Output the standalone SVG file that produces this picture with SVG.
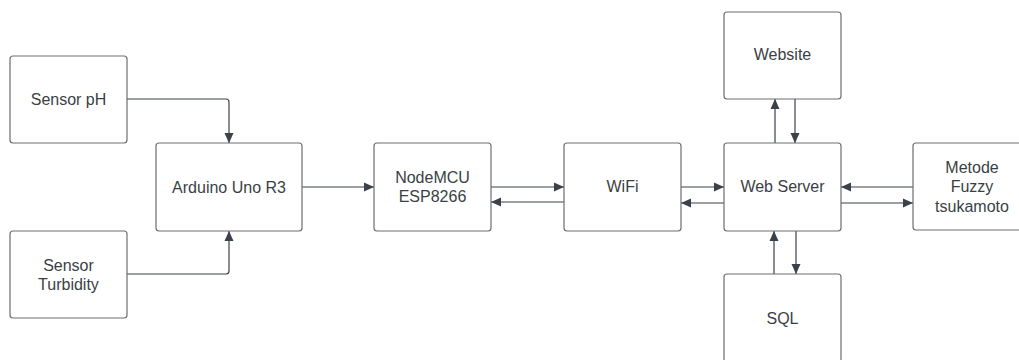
<svg xmlns="http://www.w3.org/2000/svg" width="1019" height="360" viewBox="0 0 1019 360">
<style>
.box{fill:#ffffff;stroke:#6b6e73;stroke-width:1.2}
.t{font-family:"Liberation Sans",Arial,sans-serif;font-size:16px;fill:#3a3f45;text-anchor:middle;dominant-baseline:central}
.c{fill:none;stroke:#3a414a;stroke-width:1.2;marker-end:url(#ah)}
</style>
<defs>
<marker id="ah" markerUnits="userSpaceOnUse" markerWidth="12" markerHeight="12" viewBox="0 0 12 12" refX="11" refY="6" orient="auto">
<path d="M1,1.5 L11,6 L1,10.5 Z" fill="#3a414a"/>
</marker>
</defs>
<rect width="1019" height="360" fill="#ffffff"/>
<g id="connectors">
<path class="c" d="M127,99 H226 Q229,99 229,102 V143"/>
<path class="c" d="M127,274 H226 Q229,274 229,271 V231"/>
<path class="c" d="M302,187 H374"/>
<path class="c" d="M491,187 H564"/>
<path class="c" d="M564,202 H491"/>
<path class="c" d="M681,187 H724"/>
<path class="c" d="M724,203 H681"/>
<path class="c" d="M775,143 V99"/>
<path class="c" d="M795,99 V143"/>
<path class="c" d="M913,187 H841"/>
<path class="c" d="M841,203 H913"/>
<path class="c" d="M774,274 V231"/>
<path class="c" d="M796,231 V274"/>
</g>
<g id="sensor-ph"><rect class="box" x="10" y="56" width="117" height="87" rx="3"/><text class="t" x="68.5" y="99">Sensor pH</text></g>
<g id="sensor-turbidity"><rect class="box" x="10" y="231" width="117" height="87" rx="3"/><text class="t" x="68.5" y="265">Sensor</text><text class="t" x="68.5" y="284">Turbidity</text></g>
<g id="arduino"><rect class="box" x="156" y="143" width="146" height="88" rx="3"/><text class="t" x="229" y="187">Arduino Uno R3</text></g>
<g id="nodemcu"><rect class="box" x="374" y="143" width="117" height="88" rx="3"/><text class="t" x="432.5" y="177">NodeMCU</text><text class="t" x="432.5" y="196">ESP8266</text></g>
<g id="wifi"><rect class="box" x="564" y="143" width="117" height="88" rx="3"/><text class="t" x="622.5" y="186">WiFi</text></g>
<g id="web-server"><rect class="box" x="724" y="143" width="117" height="88" rx="3"/><text class="t" x="782.5" y="186">Web Server</text></g>
<g id="website"><rect class="box" x="724" y="12" width="117" height="87" rx="3"/><text class="t" x="782.5" y="54">Website</text></g>
<g id="sql"><rect class="box" x="724" y="274" width="117" height="88" rx="3"/><text class="t" x="782.5" y="318">SQL</text></g>
<g id="metode"><rect class="box" x="913" y="143" width="117" height="87" rx="3"/><text class="t" x="972" y="167">Metode</text><text class="t" x="972" y="186.5">Fuzzy</text><text class="t" x="972" y="206">tsukamoto</text></g>
</svg>
